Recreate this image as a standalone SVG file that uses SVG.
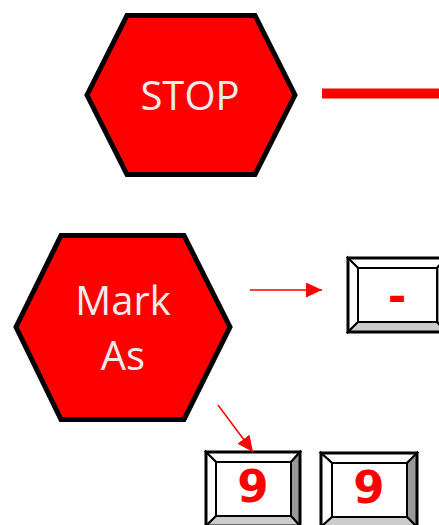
<svg xmlns="http://www.w3.org/2000/svg" width="439" height="525" viewBox="0 0 439 525">
<style>
.hex{fill:#ff0000;stroke:#000;stroke-width:5;stroke-linejoin:miter}
.ht{font-family:"Open Sans","Liberation Sans",sans-serif;font-size:40px;fill:#ececec;text-anchor:middle}
.bv{stroke:#000;stroke-width:2;stroke-linejoin:miter}
.out{fill:none;stroke:#000;stroke-width:3}
.kt{font-family:"DejaVu Sans",sans-serif;font-weight:bold;font-size:45px;fill:#ff0000;text-anchor:middle}
.conn{stroke:#ff0000;stroke-width:1.5;fill:none}
</style>
<defs>
<marker id="ah" markerWidth="16" markerHeight="15" refX="16" refY="7.5" orient="auto" markerUnits="userSpaceOnUse">
<path d="M0,0 L16,7.5 L0,15 Z" fill="#ff0000"/>
</marker>
</defs>
<g id="stop">
<polygon class="hex" points="87,95 127,15.5 255,15.5 295,95 255,174.5 127,174.5"/>
<text class="ht" x="190" y="110">STOP</text>
</g>
<g id="markas">
<polygon class="hex" points="16,327 61,235.5 184,235.5 230,327 184,419.5 61,419.5"/>
<text class="ht" x="123" y="315">Mark</text>
<text class="ht" x="123" y="370">As</text>
</g>
<g id="key-dash">
<polygon class="bv" fill="#fff" points="348,258 446,258 437,268 358,268"/>
<polygon class="bv" fill="#fff" points="348,258 358,268 358,322 348,332"/>
<polygon class="bv" fill="#999" points="446,258 446,332 437,322 437,268"/>
<polygon class="bv" fill="#ccc" points="348,332 358,322 437,322 446,332"/>
<rect class="bv" fill="#fff" x="358" y="268" width="79" height="54"/>
<rect class="out" x="348" y="258" width="98" height="74"/>
<text class="kt" x="397" y="312">-</text>
</g>
<g id="key-9a">
<polygon class="bv" fill="#fff" points="206,452 300,452 291,462 216,462"/>
<polygon class="bv" fill="#fff" points="206,452 216,462 216,516 206,526"/>
<polygon class="bv" fill="#999" points="300,452 300,526 291,516 291,462"/>
<polygon class="bv" fill="#ccc" points="206,526 216,516 291,516 300,526"/>
<rect class="bv" fill="#fff" x="216" y="462" width="75" height="54"/>
<rect class="out" x="206" y="452" width="94" height="74"/>
<text class="kt" x="253" y="502">9</text>
</g>
<g id="key-9b">
<polygon class="bv" fill="#fff" points="321,453 417,453 407,463 332,463"/>
<polygon class="bv" fill="#fff" points="321,453 332,463 332,517 321,527"/>
<polygon class="bv" fill="#999" points="417,453 417,527 407,517 407,463"/>
<polygon class="bv" fill="#ccc" points="321,527 332,517 407,517 417,527"/>
<rect class="bv" fill="#fff" x="332" y="463" width="75" height="54"/>
<rect class="out" x="321" y="453" width="96" height="74"/>
<text class="kt" x="369" y="503">9</text>
</g>
<g id="connectors">
<line x1="322" y1="93.5" x2="439" y2="93.5" stroke="#ff0000" stroke-width="10"/>
<line class="conn" x1="250" y1="290" x2="322" y2="290" marker-end="url(#ah)"/>
<line class="conn" x1="218" y1="405" x2="253" y2="452" marker-end="url(#ah)"/>
</g>
</svg>
